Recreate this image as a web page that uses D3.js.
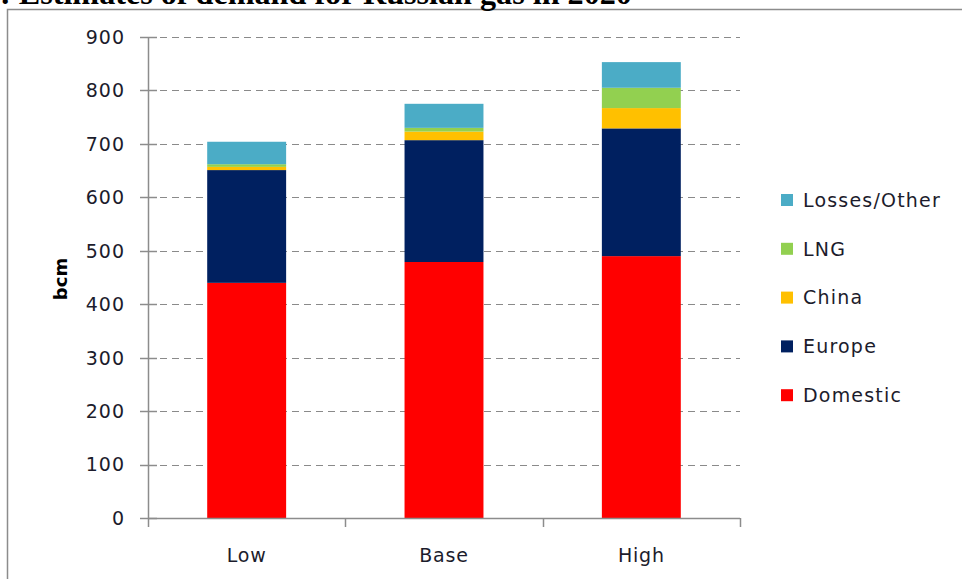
<!DOCTYPE html>
<html>
<head>
<meta charset="utf-8">
<script src="https://cdn.jsdelivr.net/npm/d3@7"></script>
<style>
  body { margin: 0; background: #fff; }
  svg { display: block; }
</style>
</head>
<body>
<div id="chart"></div>
<script>
// dati (bcm)
const categories = ['Low', 'Base', 'High'];
const seriesNames = ['Domestic', 'Europe', 'China', 'LNG', 'Losses/Other'];
const seriesColors = ['#FF0000', '#002060', '#FFC000', '#92D050', '#4BACC6'];
const domestic = [440, 479, 490];
const europe = [211, 228, 239];
const china = [6, 16, 38];
const lng = [5, 7, 38];
const losses = [42, 45, 48];
const yTicks = [0, 100, 200, 300, 400, 500, 600, 700, 800, 900];

const width = 962, height = 579;
const font = '"DejaVu Sans", Verdana, sans-serif';

const svg = d3.select('#chart').append('svg')
    .attr('width', width)
    .attr('height', height);

// cornice
svg.append('path')
    .attr('d', `M7.5,${height} V9.5 H${width}`)
    .attr('fill', 'none')
    .attr('stroke', '#8c8c8c')
    .attr('stroke-width', 1.5);

// titolo (tagliato in alto come nell'originale)
const title = svg.append('text')
    .attr('x', 0)
    .attr('y', 4)
    .style('font-family', '"Liberation Serif", "Times New Roman", serif')
    .style('font-weight', 'bold')
    .style('font-size', '26px')
    .attr('fill', '#000')
    .text(': Estimates of demand for Russian gas in 2020');
const tw = title.node().getComputedTextLength();
title.style('font-size', (26 * 632 / tw).toFixed(2) + 'px');

const x = d3.scaleBand().domain(categories).range([148, 740]).padding(0);
const y = d3.scaleLinear().domain([0, 900]).range([518, 37]);

// griglia tratteggiata
svg.append('g')
    .selectAll('line')
    .data(yTicks.filter(d => d > 0))
    .join('line')
    .attr('x1', 148)
    .attr('x2', 740)
    .attr('y1', d => Math.round(y(d)) + 0.5)
    .attr('y2', d => Math.round(y(d)) + 0.5)
    .attr('stroke', '#8a8a8a')
    .attr('stroke-width', 1.2)
    .attr('stroke-dasharray', '7,5');

// barre impilate
const table = categories.map((c, i) => ({
    cat: c,
    'Domestic': domestic[i],
    'Europe': europe[i],
    'China': china[i],
    'LNG': lng[i],
    'Losses/Other': losses[i]
}));
const stacked = d3.stack().keys(seriesNames)(table);
const barW = x.bandwidth() * 0.4;

svg.append('g')
    .selectAll('g')
    .data(stacked)
    .join('g')
    .attr('fill', (d, i) => seriesColors[i])
    .selectAll('rect')
    .data(d => d)
    .join('rect')
    .attr('x', d => x(d.data.cat) + (x.bandwidth() - barW) / 2)
    .attr('y', d => y(d[1]))
    .attr('width', barW)
    .attr('height', d => y(d[0]) - y(d[1]));

// asse y
const yAxis = svg.append('g');
yAxis.append('line')
    .attr('x1', 148.5).attr('x2', 148.5)
    .attr('y1', 37).attr('y2', 527)
    .attr('stroke', '#8c8c8c').attr('stroke-width', 1.5);
yAxis.selectAll('line.tick')
    .data(yTicks)
    .join('line')
    .attr('class', 'tick')
    .attr('x1', 140).attr('x2', 157)
    .attr('y1', d => Math.round(y(d)) + 0.5)
    .attr('y2', d => Math.round(y(d)) + 0.5)
    .attr('stroke', '#8c8c8c').attr('stroke-width', 1.5);
yAxis.selectAll('text')
    .data(yTicks)
    .join('text')
    .attr('x', 125)
    .attr('y', d => y(d))
    .attr('dy', '0.36em')
    .attr('text-anchor', 'end')
    .style('font-family', font)
    .style('font-size', '19px')
    .style('letter-spacing', '1px')
    .attr('fill', '#1c1c2c')
    .text(d => d);

// asse x
const xAxis = svg.append('g');
xAxis.append('line')
    .attr('x1', 148).attr('x2', 740)
    .attr('y1', 518.5).attr('y2', 518.5)
    .attr('stroke', '#8c8c8c').attr('stroke-width', 1.5);
xAxis.selectAll('line.tick')
    .data(categories.map(c => x(c)).concat([x.range()[1]]).slice(1))
    .join('line')
    .attr('class', 'tick')
    .attr('x1', d => Math.round(d) + 0.5).attr('x2', d => Math.round(d) + 0.5)
    .attr('y1', 518).attr('y2', 527)
    .attr('stroke', '#8c8c8c').attr('stroke-width', 1.5);
xAxis.selectAll('text')
    .data(categories)
    .join('text')
    .attr('x', d => x(d) + x.bandwidth() / 2)
    .attr('y', 562)
    .attr('text-anchor', 'middle')
    .style('font-family', font)
    .style('font-size', '19px')
    .style('letter-spacing', '0.8px')
    .attr('fill', '#1c1c2c')
    .text(d => d);

// etichetta asse
svg.append('text')
    .attr('transform', 'translate(67,279) rotate(-90)')
    .attr('text-anchor', 'middle')
    .style('font-family', font)
    .style('font-size', '18px')
    .style('font-weight', 'bold')
    .style('letter-spacing', '0px')
    .attr('fill', '#000')
    .text('bcm');

// legenda (ordine inverso, come nel grafico)
const legendItems = seriesNames.map((n, i) => ({ name: n, color: seriesColors[i] })).reverse();
const legend = svg.append('g')
    .selectAll('g')
    .data(legendItems)
    .join('g')
    .attr('transform', (d, i) => `translate(781,${200 + i * 48.8})`);
legend.append('rect')
    .attr('x', 0).attr('y', -6)
    .attr('width', 12).attr('height', 12)
    .attr('fill', d => d.color);
legend.append('text')
    .attr('x', 22)
    .attr('y', 0)
    .attr('dy', '0.36em')
    .style('font-family', font)
    .style('font-size', '19px')
    .style('letter-spacing', '1.2px')
    .attr('fill', '#1c1c2c')
    .text(d => d.name);
</script>
</body>
</html>
